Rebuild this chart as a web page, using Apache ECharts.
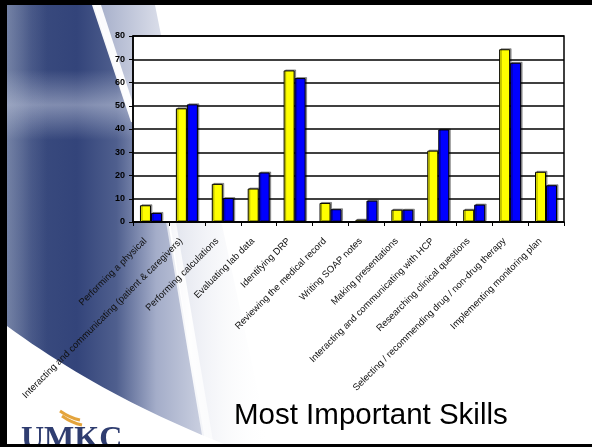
<!DOCTYPE html>
<html>
<head>
<meta charset="utf-8">
<script src="https://cdn.jsdelivr.net/npm/echarts@6/dist/echarts.min.js"></script>
<style>
  html, body { margin: 0; padding: 0; background: #fff; }
  #chart { width: 592px; height: 447px; }
</style>
</head>
<body>
<div id="chart"></div>
<script>
// Skills surveyed, two groups of respondents (percent)
const skills = [
  'Performing a physical',
  'Interacting and communicating (patient & caregivers)',
  'Performing calculations',
  'Evaluating lab data',
  'Identifying DRP',
  'Reviewing the medical record',
  'Writing SOAP notes',
  'Making presentations',
  'Interacting and communicating with HCP',
  'Researching clinical questions',
  'Selecting / recommending drug / non-drug therapy',
  'Implementing monitoring plan'
];
const seriesA = [7.2, 48.9, 16.4, 14.4, 65.2, 8.2, 1.0, 5.3, 30.7, 5.3, 74.3, 21.6];
const seriesB = [3.9, 50.6, 10.3, 21.3, 61.9, 5.5, 9.2, 5.3, 39.8, 7.5, 68.5, 15.8];
const yTicks = { min: 0, max: 80, interval: 10 };
const slideTitle = 'Most Important Skills';
const logoText = 'UMKC';

const FONT = '"Liberation Sans", Arial, sans-serif';

function hGrad(stops) {
  return { type: 'linear', x: 0, y: 0, x2: 1, y2: 0,
    colorStops: stops.map(s => ({ offset: s[0], color: s[1] })) };
}
function vGrad(stops) {
  return { type: 'linear', x: 0, y: 0, x2: 0, y2: 1,
    colorStops: stops.map(s => ({ offset: s[0], color: s[1] })) };
}

// outline of the white sweep in the lower left (quadratic edge)
function sweepOutline() {
  const p0 = [7, 326], c = [105, 398], p1 = [232, 447];
  const pts = [];
  for (let i = 0; i <= 24; i++) {
    const t = i / 24, u = 1 - t;
    pts.push([u * u * p0[0] + 2 * u * t * c[0] + t * t * p1[0],
              u * u * p0[1] + 2 * u * t * c[1] + t * t * p1[1]]);
  }
  pts.push([7, 447]);
  return pts;
}

// slide backdrop: blue panel on the left with a light streak and a white sweep
const backdrop = [
  { type: 'rect', z: -20, silent: true, shape: { x: 0, y: 0, width: 592, height: 447 }, style: { fill: '#ffffff' } },
  // light region right of the streak
  { type: 'polygon', z: -19, silent: true,
    shape: { points: [[95, 5], [155, 5], [180, 130], [222, 225], [270, 447], [205, 447], [170, 222], [133, 125]] },
    style: { fill: hGrad([[0, '#a3acc8'], [0.35, '#d6dae7'], [1, 'rgba(255,255,255,0)']]) } },
  // dark blue panel
  { type: 'polygon', z: -18, silent: true,
    shape: { points: [[7, 5], [94, 5], [133, 125], [168, 222], [206, 447], [7, 447]] },
    style: { fill: hGrad([[0, '#56668f'], [0.12, '#3a4b7e'], [0.35, '#33447a'], [0.55, '#4f5f8e'], [0.75, '#a4adc9'], [1, '#cdd2e2']]) } },
  // soft horizontal glow across the panel
  { type: 'rect', z: -17, silent: true, shape: { x: 7, y: 70, width: 128, height: 70 },
    style: { fill: vGrad([[0, 'rgba(220,225,238,0)'], [0.5, 'rgba(220,225,238,0.45)'], [1, 'rgba(220,225,238,0)']]) } },
  { type: 'rect', z: -17, silent: true, shape: { x: 7, y: 5, width: 40, height: 440 },
    style: { fill: hGrad([[0, 'rgba(170,180,205,0.35)'], [1, 'rgba(170,180,205,0)']]) } },
  // white streaks
  { type: 'polygon', z: -16, silent: true,
    shape: { points: [[92, 5], [101, 5], [139, 122], [131, 122]] },
    style: { fill: '#ffffff', opacity: 0.95 } },
  { type: 'polygon', z: -16, silent: true,
    shape: { points: [[166, 222], [176, 222], [214, 447], [204, 447]] },
    style: { fill: hGrad([[0, 'rgba(255,255,255,0.6)'], [0.5, 'rgba(255,255,255,0.95)'], [1, 'rgba(255,255,255,0.6)']]) } },
  // white sweep at the bottom left
  { type: 'polygon', z: -15, silent: true,
    shape: { points: sweepOutline() },
    style: { fill: '#ffffff' } },
  // logo
  { type: 'text', z: 50, silent: true, x: 21, y: 424,
    style: { text: logoText, fill: '#2f3d70', font: 'bold 32px "Liberation Serif", "Times New Roman", serif' } },
  { type: 'bezierCurve', z: 51, silent: true,
    shape: { x1: 60, y1: 411, cpx1: 70, cpy1: 418, x2: 80, y2: 420 },
    style: { fill: 'none', stroke: '#e4a43c', lineWidth: 3 } },
  { type: 'bezierCurve', z: 51, silent: true,
    shape: { x1: 62, y1: 416, cpx1: 72, cpy1: 423, x2: 82, y2: 425 },
    style: { fill: 'none', stroke: '#e4a43c', lineWidth: 3 } },
  // title
  { type: 'text', z: 50, silent: true, x: 234, y: 401,
    style: { text: slideTitle, fill: '#000', font: '29.5px ' + FONT } },
  // frame
  { type: 'rect', z: 60, silent: true, shape: { x: 0, y: 0, width: 592, height: 5 }, style: { fill: '#000' } },
  { type: 'rect', z: 60, silent: true, shape: { x: 0, y: 0, width: 7, height: 447 }, style: { fill: '#000' } },
  { type: 'rect', z: 60, silent: true, shape: { x: 0, y: 444, width: 592, height: 3 }, style: { fill: '#000' } }
];

const barStyle = (color) => ({
  color: color,
  borderColor: '#000',
  borderWidth: 1,
  shadowColor: 'rgba(0,0,0,0.35)',
  shadowOffsetX: 1.5,
  shadowOffsetY: -1
});

const chart = echarts.init(document.getElementById('chart'), null, { renderer: 'canvas' });
chart.setOption({
  animation: false,
  backgroundColor: 'transparent',
  graphic: { elements: backdrop },
  grid: {
    left: 133, top: 36, width: 431, height: 186,
    show: true, backgroundColor: '#ffffff', borderColor: '#000', borderWidth: 1.5
  },
  xAxis: {
    type: 'category',
    data: skills,
    axisLine: { lineStyle: { color: '#000', width: 1.5 } },
    axisTick: { show: true, length: 4, lineStyle: { color: '#000' } },
    axisLabel: {
      rotate: 45, interval: 0, margin: 12, padding: [0, 8, 0, 0],
      color: '#111', fontSize: 9.5, fontFamily: FONT
    },
    splitLine: { show: false }
  },
  yAxis: {
    type: 'value',
    min: yTicks.min, max: yTicks.max, interval: yTicks.interval,
    axisLine: { show: true, lineStyle: { color: '#000', width: 1.5 } },
    axisTick: { show: true, length: 4, lineStyle: { color: '#000' } },
    axisLabel: { margin: 8, color: '#000', fontSize: 9, fontWeight: 'bold', fontFamily: FONT },
    splitLine: { lineStyle: { color: '#000', width: 1.5 } }
  },
  series: [
    { name: 'Series 1', type: 'bar', data: seriesA, barWidth: 11, barGap: '0%', itemStyle: barStyle('#ffff00') },
    { name: 'Series 2', type: 'bar', data: seriesB, barWidth: 11, barGap: '0%', itemStyle: barStyle('#0000ff') }
  ]
});
</script>
</body>
</html>
